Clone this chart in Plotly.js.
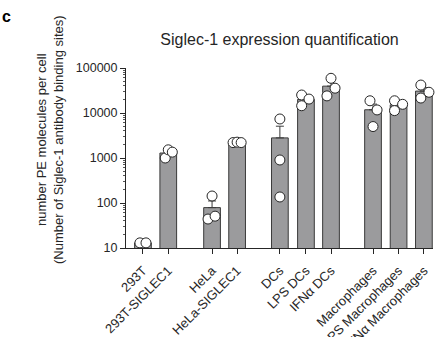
<!DOCTYPE html>
<html><head><meta charset="utf-8">
<script src="https://cdn.plot.ly/plotly-3.0.1.min.js"></script>
<style>html,body{margin:0;padding:0;background:#fff}#chart{width:442px;height:337px}</style>
</head><body><div id="chart"></div>
<script>
// ---- data ----
const categories = ["293T","293T-SIGLEC1","HeLa","HeLa-SIGLEC1","DCs","LPS DCs","IFNα DCs","Macrophages","LPS Macrophages","IFNα Macrophages"];
const means  = [13, 1290, 79, 2200, 2800, 20000, 39500, 11800, 15200, 30700];
const errUp  = [0, 150, 32, 30, 2290, 3070, 10300, 3950, 2150, 5930];
const points = [
  [13, 13],
  [1000, 1520, 1350],
  [143, 44, 51],
  [2200, 2250, 2200],
  [7360, 903, 136],
  [25100, 20400, 14500],
  [59000, 35600, 24000],
  [18700, 11700, 5000],
  [18700, 15600, 11300],
  [41800, 28900, 21500]
];
const yTickVals = [10, 100, 1000, 10000, 100000];
const yTickText = ["10", "100", "1000", "10000", "100000"];

// ---- layout helpers (positions, not data) ----
const xPos = [0, 1, 2.73, 3.72, 5.41, 6.44, 7.43, 9.09, 10.1, 11.1];
const jitter = [
  [-0.12, 0.12],
  [-0.12, 0, 0.16],
  [0, -0.16, 0.12],
  [-0.16, 0, 0.16],
  [0, 0, 0],
  [-0.17, 0.12, -0.17],
  [0, 0.16, -0.16],
  [-0.12, 0.16, 0],
  [-0.16, 0.16, -0.16],
  [-0.12, 0.2, -0.12]
];

const px = [], py = [];
points.forEach((arr, i) => arr.forEach((v, j) => { px.push(xPos[i] + jitter[i][j]); py.push(v); }));

const FONT = "Liberation Sans, Arial, Helvetica, sans-serif";
const dark = "#262626";

const traces = [
  {
    type: "bar", x: xPos, y: means, width: 0.66,
    marker: {color: "#9b9b9d", line: {color: "#3a3a3a", width: 1}},
    error_y: {type: "data", symmetric: false, array: errUp, arrayminus: errUp.map(() => 0),
              color: "#3a3a3a", thickness: 1, width: 4},
    hoverinfo: "x+y"
  },
  {
    type: "scatter", mode: "markers", x: px, y: py,
    marker: {size: 10, color: "#ffffff", line: {color: "#262626", width: 1}},
    cliponaxis: false
  }
];

const layout = {
  width: 442, height: 337,
  margin: {l: 126, r: 9, t: 68, b: 89},
  paper_bgcolor: "#fff", plot_bgcolor: "#fff",
  showlegend: false,
  font: {family: FONT, color: dark, size: 12},
  title: {text: "Siglec-1 expression quantification", font: {size: 16, family: FONT, color: dark},
          x: 0.5, xref: "paper", xanchor: "center", y: 0.883, yref: "container", yanchor: "middle"},
  xaxis: {
    range: [-0.67, 11.46], tickvals: xPos, ticktext: categories, tickangle: -45,
    showline: true, linecolor: dark, linewidth: 1, ticks: "outside", ticklen: 5, tickcolor: dark,
    ticklabelstandoff: 4,
    showgrid: false, zeroline: false, tickfont: {size: 13, family: FONT, color: dark}
  },
  yaxis: {
    type: "log", range: [1, 5], tickvals: yTickVals, ticktext: yTickText,
    showline: true, linecolor: dark, linewidth: 1, ticks: "outside", ticklen: 5, tickcolor: dark,
    minor: {ticks: "outside", ticklen: 2.5, tickcolor: "#555", dtick: "D1", showgrid: false},
    showgrid: false, zeroline: false, tickfont: {size: 12.5, family: FONT, color: dark}
  },
  annotations: [
    {text: "<b>c</b>", xref: "paper", yref: "paper", x: -126/307, y: 1 + 52/180, xanchor: "left", yanchor: "middle",
     showarrow: false, font: {size: 16, family: FONT, color: "#000"}},
    {text: "number PE molecules per cell<br>(Number of Siglec-1 antibody binding sites)", textangle: -90,
     xref: "paper", yref: "paper", x: -(126 - 50) / 307, y: (248 - 140) / 180, xanchor: "center", yanchor: "middle",
     showarrow: false, font: {size: 13, family: FONT, color: dark}}
  ]
};

Plotly.newPlot("chart", traces, layout, {displayModeBar: false, staticPlot: true});
</script>
</body></html>
